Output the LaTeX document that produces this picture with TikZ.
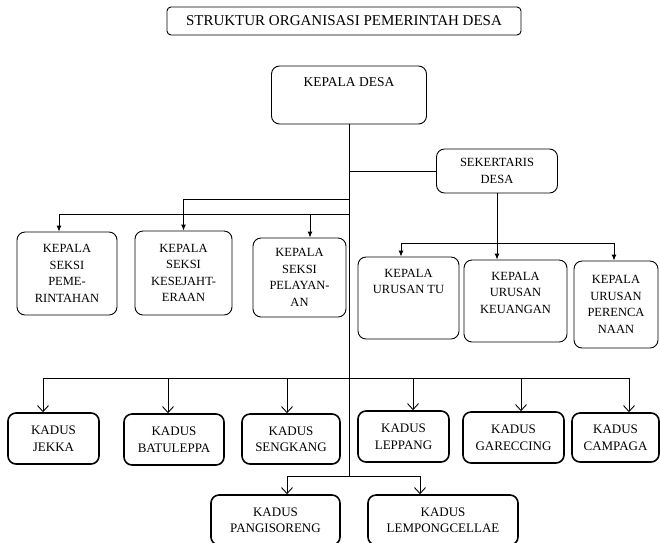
\documentclass[tikz,border=0pt]{standalone}
\usepackage{fontspec}
\setmainfont{Liberation Serif}
\usepackage{tikz}
\usetikzlibrary{arrows.meta}
\tikzset{>={Latex[length=6pt,width=5pt]}}
\tikzset{judul/.style = {shape=rectangle,draw,rounded corners=4pt,inner sep=0pt,font=\fontsize{15}{18}\selectfont}}
\tikzset{seksi/.style = {shape=rectangle,draw,rounded corners=8pt,inner sep=0pt,align=center,font=\fontsize{12.5}{16.5}\selectfont}}
\tikzset{kadusbox/.style = {seksi,line width=1.6pt,font=\fontsize{13}{16.5}\selectfont}}
\tikzset{atas/.style = {anchor=north,yshift=-8.5pt,align=center,font=\fontsize{12.5}{16.5}\selectfont}}
\tikzset{panah/.style = {-{Straight Barb[length=6pt,width=11pt]}}}

\begin{document}
\begin{tikzpicture}[x=1pt,y=-1pt,line width=0.9pt]
                    \useasboundingbox (0,0) rectangle (660,542);
                    \node[judul,minimum width=354pt,minimum height=28pt] (judul) at (344,21) {STRUKTUR ORGANISASI PEMERINTAH DESA};

                    \node[seksi,minimum width=155pt,minimum height=58pt,label={[atas,font=\fontsize{13.5}{16}\selectfont]north:KEPALA DESA}] (kades) at (349,95) {};
                    \node[seksi,minimum width=121pt,minimum height=44pt] (sekdes) at (497,171) {SEKERTARIS\\DESA};

                    \node[seksi,minimum width=100pt,minimum height=83pt] (pem) at (67,273.5) {KEPALA\\SEKSI\\PEME-\\RINTAHAN};
                    \node[seksi,minimum width=97pt,minimum height=84pt] (kesra) at (183.5,273) {KEPALA\\SEKSI\\KESEJAHT-\\ERAAN};
                    \node[seksi,minimum width=93pt,minimum height=79pt] (pel) at (299.5,277.5) {KEPALA\\SEKSI\\PELAYAN-\\AN};
                    \node[seksi,minimum width=101pt,minimum height=82pt,label={[atas]north:KEPALA\\URUSAN TU}] (tu) at (408.5,298) {};
                    \node[seksi,minimum width=103pt,minimum height=82pt,label={[atas]north:KEPALA\\URUSAN\\KEUANGAN}] (keu) at (515.5,301) {};
                    \node[seksi,minimum width=84pt,minimum height=87pt] (ren) at (616,304.5) {KEPALA\\URUSAN\\PERENCA\\NAAN};

                    \node[kadusbox,minimum width=91pt,minimum height=51pt] (jekka) at (53.5,438.5) {KADUS\\JEKKA};
                    \node[kadusbox,minimum width=100pt,minimum height=51pt] (batu) at (174,439.5) {KADUS\\BATULEPPA};
                    \node[kadusbox,minimum width=98pt,minimum height=50pt] (seng) at (291,439) {KADUS\\SENGKANG};
                    \node[kadusbox,minimum width=91pt,minimum height=51pt] (lepp) at (403.5,436.5) {KADUS\\LEPPANG};
                    \node[kadusbox,minimum width=101pt,minimum height=51pt] (gare) at (513.5,437.5) {KADUS\\GARECCING};
                    \node[kadusbox,minimum width=87pt,minimum height=49pt] (camp) at (615.5,437.5) {KADUS\\CAMPAGA};
                    \node[kadusbox,minimum width=129pt,minimum height=50pt] (pang) at (275.5,520) {KADUS\\PANGISORENG};
                    \node[kadusbox,minimum width=150pt,minimum height=50pt] (lemp) at (443,520) {KADUS\\LEMPONGCELLAE};

                    \coordinate (s1) at (349,199);
                    \coordinate (s2) at (349,214);
                    \coordinate (u) at (497,243);
                    \coordinate (k1) at (349,378);
                    \coordinate (k2) at (349,476);

                    \draw (kades.south) -- (k2);
                    \draw (kades.south |- sekdes) -- (sekdes);
                    \draw[->] (s1) -| (kesra);
                    \draw[->] (s2) -| ([xshift=-8pt]pem.north);
                    \draw[->] (s2) -| ([xshift=10.5pt]pel.north);
                    \draw (sekdes) -- (u);
                    \draw[->] (u) -| ([xshift=-7.5pt]tu.north);
                    \draw[->] (u) -- (u |- keu.north);
                    \draw[->] (u) -| ([xshift=-2pt]ren.north);

                    \draw[panah] (k1) -| ([xshift=-10.5pt]jekka.north);
                    \draw[panah] (k1) -| ([xshift=-6pt]batu.north);
                    \draw[panah] (k1) -| ([xshift=-4pt]seng.north);
                    \draw[panah] (k1) -| ([xshift=9.5pt]lepp.north);
                    \draw[panah] (k1) -| ([xshift=7.5pt]gare.north);
                    \draw[panah] (k1) -| ([xshift=13.5pt]camp.north);
                    \draw[panah] (k2) -| ([xshift=11.5pt]pang.north);
                    \draw[panah] (k2) -| ([xshift=-23pt]lemp.north);
                \end{tikzpicture}
\end{document}
